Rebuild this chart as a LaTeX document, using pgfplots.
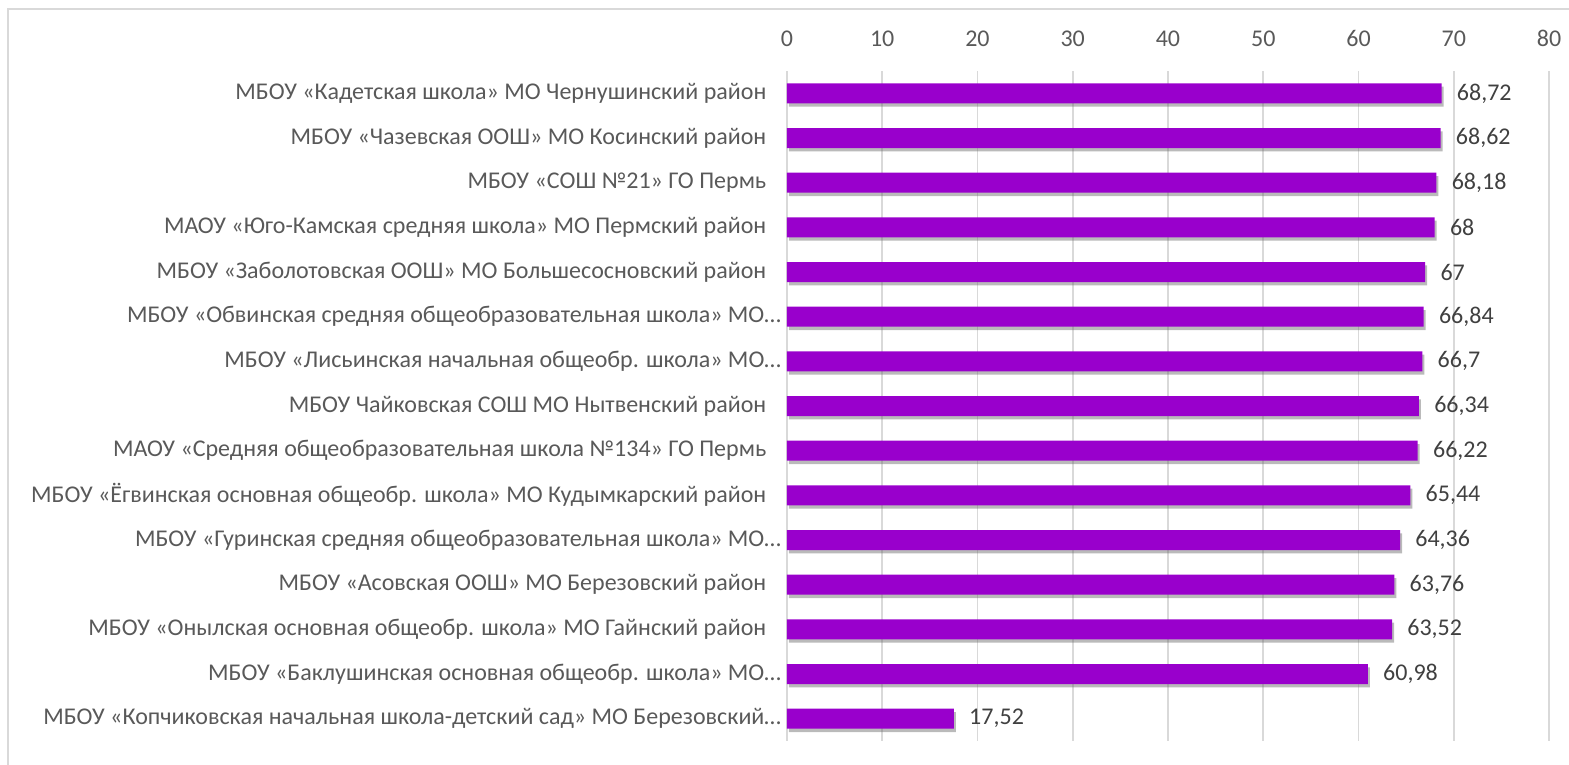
\documentclass[border=0pt]{standalone}
\usepackage{pgfplots}
\pgfplotsset{compat=1.18}
\usepackage{fontspec}
\setmainfont{Carlito}
\usetikzlibrary{shadows}
\definecolor{barc}{HTML}{9900CC}
\definecolor{txt}{HTML}{595959}
\definecolor{vtxt}{HTML}{404040}
\definecolor{grd}{HTML}{D9D9D9}
\newcommand{\tsp}{\hspace*{11pt}}
\begin{document}
\begin{tikzpicture}
\useasboundingbox (-590.25pt,-17.25pt) rectangle (586.5pt,555.75pt);
\draw[grd, line width=0.8pt] (-584.25pt,-40pt) -- (-584.25pt,549pt) -- (620pt,549pt);
\begin{axis}[
  at={(0,0)}, anchor=south west,
  scale only axis, width=571.5pt, height=502.5pt,
  xbar, bar width=15pt,
  xmin=0, xmax=80, xtick={0,10,...,80},
  ymin=-0.5, ymax=14.5, y dir=reverse,
  ytick={0,...,14},
  yticklabels={
    МБОУ «Кадетская школа» МО Чернушинский район\tsp,
    МБОУ «Чазевская ООШ» МО Косинский район\tsp,
    МБОУ «СОШ №21» ГО Пермь\tsp,
    МАОУ «Юго-Камская средняя школа» МО Пермский район\tsp,
    МБОУ «Заболотовская ООШ» МО Большесосновский район\tsp,
    МБОУ «Обвинская средняя общеобразовательная школа» МО…,
    МБОУ «Лисьинская начальная общеобр. школа» МО…,
    МБОУ Чайковская СОШ МО Нытвенский район\tsp,
    МАОУ «Средняя общеобразовательная школа №134» ГО Пермь\tsp,
    МБОУ «Ёгвинская основная общеобр. школа» МО Кудымкарский район\tsp,
    МБОУ «Гуринская средняя общеобразовательная школа» МО…,
    МБОУ «Асовская ООШ» МО Березовский район\tsp,
    МБОУ «Онылская основная общеобр. школа» МО Гайнский район\tsp,
    МБОУ «Баклушинская основная общеобр. школа» МО…,
    МБОУ «Копчиковская начальная школа-детский сад» МО Березовский…
  },
  axis x line*=top, axis y line*=left,
  axis line style={draw=none},
  major tick length=0pt,
  xmajorgrids, grid style={grd, line width=1.2pt},
  ymajorgrids=false,
  /pgf/number format/assume math mode=true,
  /pgf/number format/use comma,
  ticklabel style={font=\fontsize{18}{21}\selectfont, text=txt},
  xticklabel style={yshift=15pt},
  yticklabel style={xshift=-1pt},
  nodes near coords,
  nodes near coords style={font=\fontsize{18}{21}\selectfont, text=vtxt, anchor=west, xshift=8pt},
  clip=false,
]
\addplot[fill=barc, draw=none, drop shadow={shadow xshift=1.5pt, shadow yshift=-2.5pt, opacity=0.45, fill=black!60}] coordinates {
(68.72,0) (68.62,1) (68.18,2) (68,3) (67,4) (66.84,5) (66.7,6) (66.34,7)
(66.22,8) (65.44,9) (64.36,10) (63.76,11) (63.52,12) (60.98,13) (17.52,14)
};
\end{axis}
\end{tikzpicture}
\end{document}
